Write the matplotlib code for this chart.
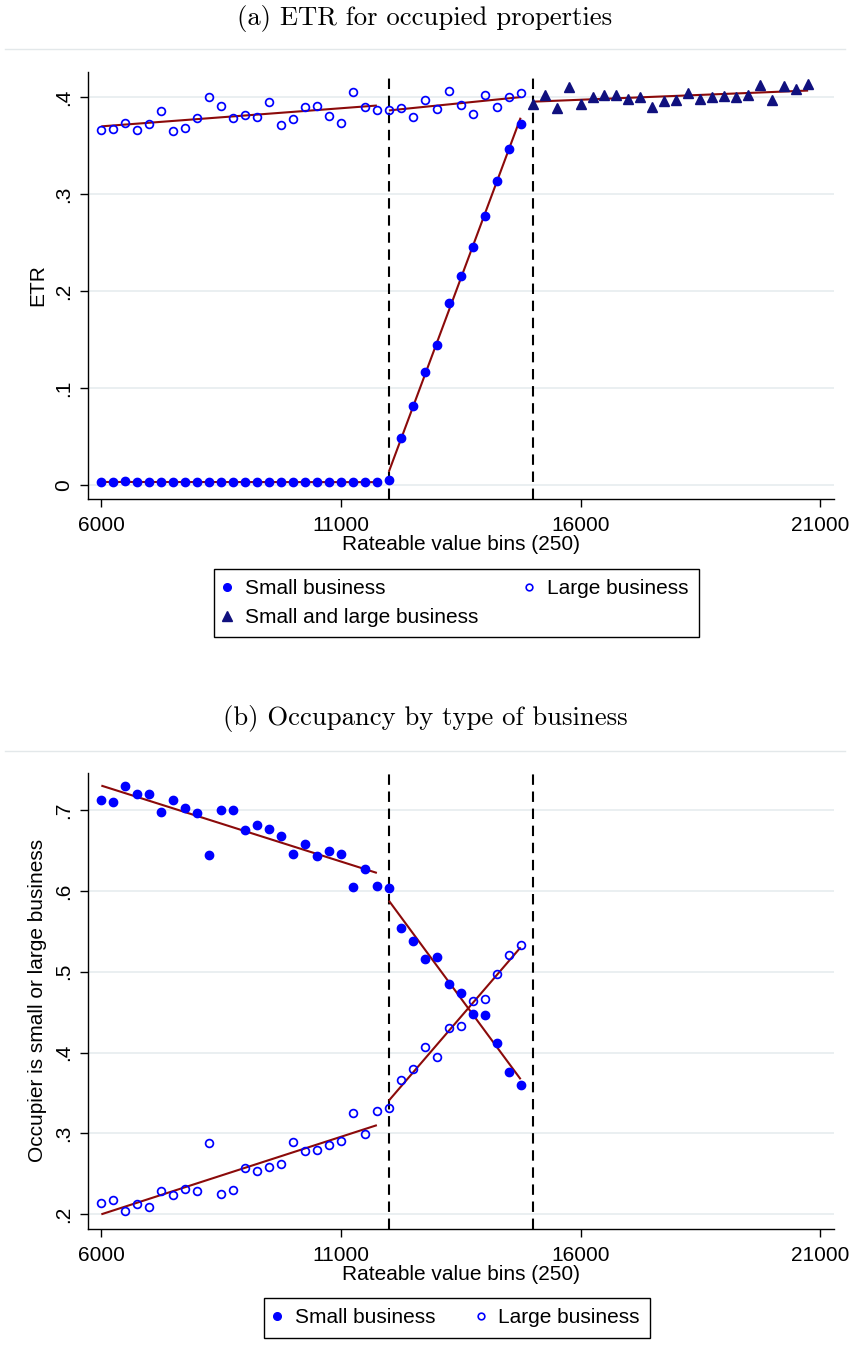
import numpy as np
import matplotlib
matplotlib.use("Agg")
import matplotlib.pyplot as plt
from matplotlib.lines import Line2D

plt.rcParams['font.family'] = ['Liberation Sans', 'DejaVu Sans']

# ---------------- data ----------------
# rateable value bins (250) for the below-15000 range
rv_bins = [6000, 6250, 6500, 6750, 7000, 7250, 7500, 7750, 8000, 8250, 8500, 8750,
           9000, 9250, 9500, 9750, 10000, 10250, 10500, 10750, 11000, 11250, 11500, 11750,
           12000, 12250, 12500, 12750, 13000, 13250, 13500, 13750, 14000, 14250, 14500, 14750]
# bins where small and large business are pooled
rv_bins_joint = [15000, 15250, 15500, 15750, 16000, 16250, 16500, 16750, 17000, 17250,
                 17500, 17750, 18000, 18250, 18500, 18750, 19000, 19250, 19500, 19750,
                 20000, 20250, 20500, 20750]

# (a) ETR for occupied properties
etr_small = [0.003, 0.003, 0.004, 0.003, 0.003, 0.003, 0.003, 0.003, 0.003, 0.003, 0.003, 0.003,
             0.003, 0.003, 0.003, 0.003, 0.003, 0.003, 0.003, 0.003, 0.003, 0.003, 0.003, 0.003,
             0.005, 0.0486, 0.0813, 0.1164, 0.144, 0.1878, 0.216, 0.2457, 0.278, 0.3137, 0.3467, 0.3726]
etr_large = [0.3665, 0.367, 0.373, 0.366, 0.372, 0.386, 0.365, 0.3685, 0.379, 0.400, 0.3915, 0.379,
             0.382, 0.380, 0.395, 0.3716, 0.378, 0.390, 0.3915, 0.381, 0.373, 0.4055, 0.390, 0.387,
             0.387, 0.389, 0.380, 0.397, 0.388, 0.4066, 0.3925, 0.383, 0.402, 0.390, 0.400, 0.4045]
etr_joint = [0.393, 0.4028, 0.389, 0.411, 0.393, 0.4007, 0.4028, 0.402, 0.398, 0.4007, 0.390, 0.3966,
             0.397, 0.404, 0.398, 0.4007, 0.4017, 0.4007, 0.4028, 0.413, 0.397, 0.412, 0.4086, 0.4138]

# (b) Occupancy by type of business
occ_small = [0.712, 0.710, 0.730, 0.7194, 0.720, 0.698, 0.712, 0.7029, 0.6963, 0.6444, 0.7004, 0.7004,
             0.6753, 0.6815, 0.6765, 0.6675, 0.6453, 0.6584, 0.6432, 0.6494, 0.646, 0.605, 0.6272, 0.6062,
             0.6037, 0.5543, 0.5379, 0.5157, 0.5177, 0.4848, 0.4732, 0.4478, 0.4465, 0.4123, 0.3757, 0.3593]
occ_large = [0.2144, 0.2181, 0.2046, 0.2132, 0.209, 0.2288, 0.2243, 0.2317, 0.2284, 0.2877, 0.2255, 0.2305,
             0.2568, 0.2531, 0.2589, 0.2626, 0.2898, 0.2782, 0.2794, 0.2852, 0.2910, 0.3251, 0.2988, 0.3272,
             0.332, 0.3663, 0.3799, 0.4074, 0.3947, 0.430, 0.4330, 0.4642, 0.4658, 0.4972, 0.521, 0.533]

thresholds = [12000, 15000]
x_ticks = [6000, 11000, 16000, 21000]
yticks_a = [0, 0.1, 0.2, 0.3, 0.4]
ylabels_a = ['0', '.1', '.2', '.3', '.4']
yticks_b = [0.2, 0.3, 0.4, 0.5, 0.6, 0.7]
ylabels_b = ['.2', '.3', '.4', '.5', '.6', '.7']

# ---------------- style ----------------
W, H = 850, 1366
BLUE = '#0000FF'
NAVY = '#10107E'
MAROON = '#8B0A0A'
GRID = '#E8EEF0'
FS = 15

fig = plt.figure(figsize=(W / 100, H / 100), dpi=100)


def fx(px):
    return px / W


def fy(py):
    return 1 - py / H


def fit_line(ax, xs, ys, lo, hi):
    xs = np.asarray(xs, float)
    ys = np.asarray(ys, float)
    m = (xs >= lo) & (xs < hi)
    b1, b0 = np.polyfit(xs[m], ys[m], 1)
    xx = np.array([xs[m].min(), xs[m].max()])
    ax.plot(xx, b0 + b1 * xx, color=MAROON, lw=1.5, zorder=4, solid_capstyle='butt')


def style_axes(ax, ylim, yticks, ylabels, ylabel, xlab_y):
    ax.set_xlim(5715, 21290)
    ax.set_ylim(*ylim)
    ax.set_xticks(x_ticks)
    ax.set_xticklabels([str(t) for t in x_ticks], fontsize=FS)
    ax.set_yticks(yticks)
    ax.set_yticklabels(ylabels, fontsize=FS, rotation=90, va='center')
    for s in ['top', 'right']:
        ax.spines[s].set_visible(False)
    for s in ['left', 'bottom']:
        ax.spines[s].set_linewidth(1.0)
    ax.tick_params(axis='both', length=5.8, width=1.0, direction='out')
    ax.tick_params(axis='x', pad=6.5)
    ax.tick_params(axis='y', pad=5)
    ax.yaxis.grid(True, color=GRID, lw=1.3)
    ax.set_axisbelow(True)
    for t in thresholds:
        ax.axvline(t, color='black', lw=1.5, ls=(0, (5, 3.2)), zorder=3)
    ax.set_xlabel('Rateable value bins (250)', fontsize=FS, va='center')
    ax.xaxis.set_label_coords(0.5, xlab_y)
    ax.set_ylabel(ylabel, fontsize=FS, va='center')
    ax.yaxis.set_label_coords(-0.0673, 0.5)


FILLED = dict(ls='none', marker='o', ms=6.0, color=BLUE, mec=BLUE, zorder=5)
HOLLOW = dict(ls='none', marker='o', ms=5.6, mfc='none', mec=BLUE, mew=1.25, zorder=5)
TRI = dict(ls='none', marker='^', ms=7.4, color=NAVY, mec=NAVY, zorder=5)

# ---------------- panel (a) ----------------
axa = fig.add_axes([fx(87.7), fy(499.3), fx(834 - 87.7), (499.3 - 71.7) / H])
axa.plot(rv_bins, etr_small, **FILLED)
axa.plot(rv_bins, etr_large, **HOLLOW)
axa.plot(rv_bins_joint, etr_joint, **TRI)
fit_line(axa, rv_bins, etr_small, 6000, 12000)
fit_line(axa, rv_bins, etr_small, 12000, 15000)
fit_line(axa, rv_bins, etr_large, 6000, 12000)
fit_line(axa, rv_bins, etr_large, 12000, 15000)
fit_line(axa, rv_bins_joint, etr_joint, 15000, 21000)
style_axes(axa, (-0.01475, 0.4264), yticks_a, ylabels_a, 'ETR', (499.3 - 544) / 427.6)

# ---------------- panel (b) ----------------
axb = fig.add_axes([fx(87.7), fy(1229), fx(834 - 87.7), (1229 - 772.7) / H])
axb.plot(rv_bins, occ_small, **FILLED)
axb.plot(rv_bins, occ_large, **HOLLOW)
fit_line(axb, rv_bins, occ_small, 6000, 12000)
fit_line(axb, rv_bins, occ_small, 12000, 15000)
fit_line(axb, rv_bins, occ_large, 6000, 12000)
fit_line(axb, rv_bins, occ_large, 12000, 15000)
style_axes(axb, (0.1818, 0.7461), yticks_b, ylabels_b, 'Occupier is small or large business',
           (1229 - 1274) / 456.3)

# ---------------- titles and separators ----------------
fig.text(0.5, fy(18), '(a) ETR for occupied properties', ha='center', va='center',
         family='cmr10', fontsize=19.2)
fig.text(0.5, fy(719), '(b) Occupancy by type of business', ha='center', va='center',
         family='cmr10', fontsize=19.2)
for yy in [49, 750.7]:
    fig.add_artist(Line2D([fx(5), fx(845)], [fy(yy), fy(yy)], color='#E3E8EA', lw=1.0))

# ---------------- legends ----------------
h_small = Line2D([], [], ls='none', marker='o', ms=5.5, color=BLUE, label='Small business')
h_large = Line2D([], [], ls='none', marker='o', ms=4.8, mfc='none', mec=BLUE, mew=1.2,
                 label='Large business')
h_joint = Line2D([], [], ls='none', marker='^', ms=6.6, color=NAVY, label='Small and large business')

common = dict(loc='upper left', ncol=2, frameon=True, fancybox=False, edgecolor='black',
              framealpha=1, borderpad=0.5, handlelength=0.28, handletextpad=0.71,
              labelspacing=0.48, borderaxespad=0, fontsize=FS)
lega = fig.legend(handles=[h_small, h_joint, h_large], bbox_to_anchor=(fx(214), fy(568.5)),
                  columnspacing=2.29, **common)
lega.get_frame().set_linewidth(1.0)
legb = fig.legend(handles=[h_small, h_large], bbox_to_anchor=(fx(264), fy(1298)),
                  columnspacing=2.02, **common)
legb.get_frame().set_linewidth(1.0)

fig.savefig('out.png', dpi=100, facecolor='white')
